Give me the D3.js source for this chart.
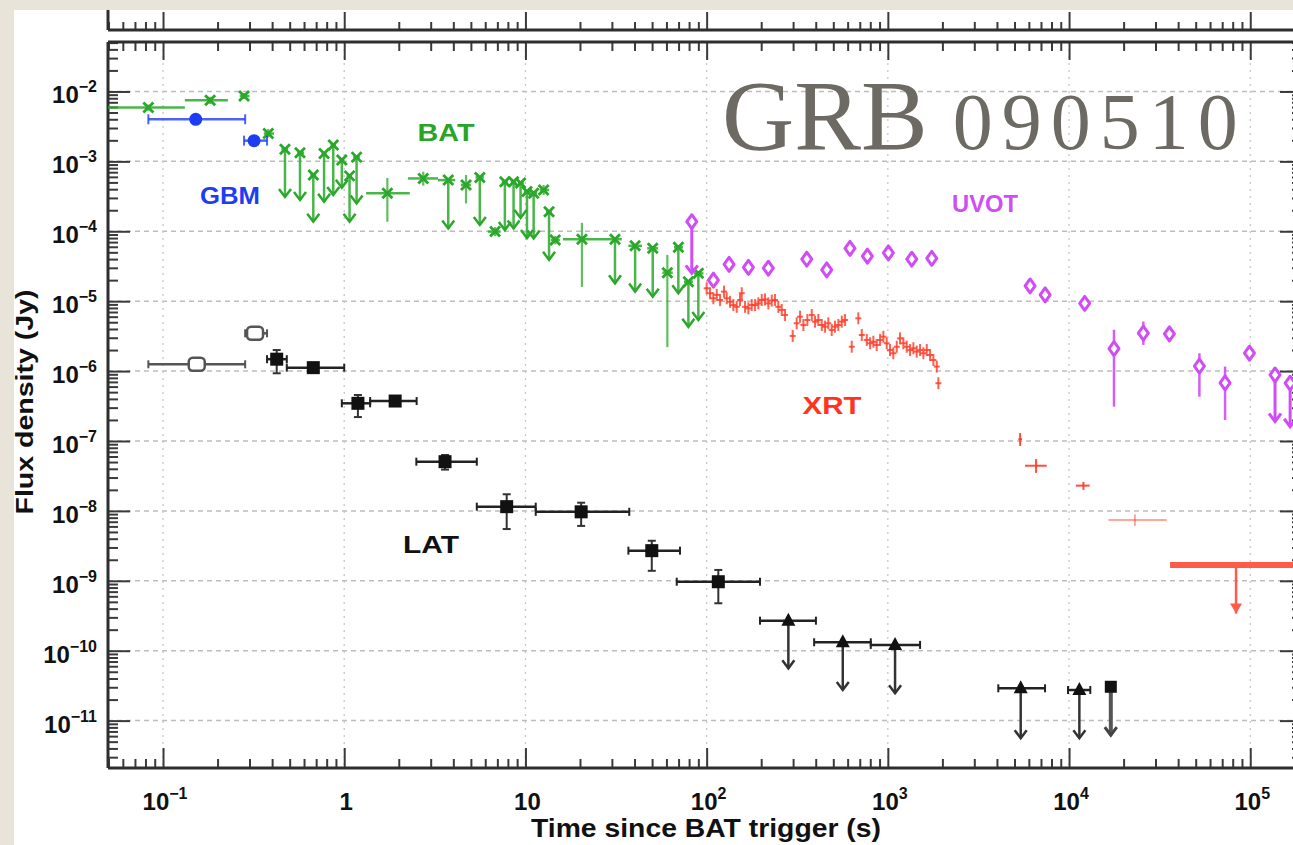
<!DOCTYPE html>
<html>
<head>
<meta charset="utf-8">
<script src="https://cdn.jsdelivr.net/npm/d3@7"></script>
<style>
  html, body { margin: 0; padding: 0; background: #e9e4d9; }
  svg { display: block; }
  text { font-family: "Liberation Sans", Arial, sans-serif; }
</style>
</head>
<body>
<svg id="chart" width="1293" height="845"></svg>
<script>
// BAT detections: t, flux, tLo, tHi, fLo, fHi
const batDet = [
  [0.083, 5.9e-3, 0.0497, 0.132, 5.3e-3, 6.5e-3],
  [0.182, 7.5e-3, 0.132, 0.228, 6.6e-3, 8.4e-3],
  [0.28, 8.6e-3, 0.265, 0.30, 7.8e-3, 9.5e-3],
  [0.381, 2.5e-3, 0.36, 0.41, 2.2e-3, 2.9e-3],
  [1.73, 3.5e-4, 1.32, 2.3, 1.37e-4, 5.8e-4],
  [2.73, 5.7e-4, 2.25, 3.29, 4.5e-4, 7.1e-4],
  [4.7, 4.6e-4, 4.4, 5.0, 2.5e-4, 6.4e-4],
  [6.8, 9.9e-5, 6.2, 7.3, 8.5e-5, 1.15e-4],
  [12.6, 3.9e-4, 12.0, 13.5, 3.3e-4, 4.6e-4],
  [14.6, 7.5e-5, 13.8, 15.5, 6.5e-5, 8.6e-5],
  [20.5, 7.7e-5, 16.1, 29.3, 1.6e-5, 1.32e-4],
  [60.7, 2.56e-5, 57, 65, 2.2e-6, 4.6e-5]
];
// BAT upper limits: t, flux, tLo, tHi, arrow end
const batLim = [
  [0.471, 1.49e-3, 0.45, 0.49, 3.1e-4],
  [0.57, 1.33e-3, 0.55, 0.60, 2.8e-4],
  [0.675, 6.4e-4, 0.65, 0.70, 1.37e-4],
  [0.774, 1.3e-3, 0.75, 0.80, 2.65e-4],
  [0.87, 1.72e-3, 0.84, 0.90, 3.3e-4],
  [0.97, 1.05e-3, 0.94, 1.0, 4.2e-4],
  [1.07, 6.2e-4, 1.03, 1.1, 1.37e-4],
  [1.17, 1.15e-3, 1.12, 1.22, 2.5e-4],
  [3.75, 5.4e-4, 3.29, 4.1, 1.1e-4],
  [5.6, 5.9e-4, 5.3, 5.9, 1.23e-4],
  [7.7, 5.1e-4, 7.4, 8.0, 1.04e-4],
  [8.6, 5.1e-4, 8.3, 8.9, 1.1e-4],
  [9.4, 4.9e-4, 9.1, 9.8, 1.55e-4],
  [10.2, 3.7e-4, 9.8, 10.7, 8.0e-5],
  [11.1, 3.5e-4, 10.7, 11.6, 7.9e-5],
  [13.5, 1.9e-4, 13.0, 14.0, 3.9e-5],
  [31.2, 7.7e-5, 29.3, 34, 1.8e-5],
  [40.3, 6.2e-5, 37, 44, 1.37e-5],
  [50.4, 5.7e-5, 47, 54, 1.16e-5],
  [69.8, 5.9e-5, 66, 74, 1.3e-5],
  [79.3, 1.9e-5, 75, 84, 4.3e-6],
  [90, 2.5e-5, 85, 96, 5.4e-6]
];
// GBM: t, flux, tLo, tHi
const gbmDet = [
  [0.1515, 4.0e-3, 0.083, 0.284],
  [0.318, 1.98e-3, 0.28, 0.375]
];
// LAT detections: t, flux, tLo, tHi, fLo, fHi (first two open symbols)
const latOpen = [
  [0.1535, 1.25e-6, 0.083, 0.284, 1.15e-6, 1.36e-6],
  [0.322, 3.47e-6, 0.284, 0.375, 3.2e-6, 3.8e-6]
];
const latDet = [
  [0.424, 1.48e-6, 0.375, 0.482, 9.3e-7, 2.0e-6],
  [0.675, 1.12e-6, 0.482, 1.0, 1.0e-6, 1.25e-6],
  [1.19, 3.46e-7, 0.97, 1.39, 2.2e-7, 4.55e-7],
  [1.91, 3.73e-7, 1.39, 2.51, 3.3e-7, 4.2e-7],
  [3.6, 5.06e-8, 2.5, 5.39, 3.9e-8, 6.3e-8],
  [7.88, 1.15e-8, 5.39, 11.4, 5.5e-9, 1.73e-8],
  [20.3, 9.7e-9, 11.4, 37.4, 6.1e-9, 1.31e-8],
  [49.8, 2.7e-9, 37, 71.3, 1.39e-9, 3.74e-9],
  [116, 9.7e-10, 68.4, 197, 4.77e-10, 1.43e-9]
];
// LAT upper limits: t, flux, tLo, tHi, arrow end
const latLim = [
  [282.5, 2.69e-10, 197, 401, 5.6e-11],
  [564, 1.32e-10, 392, 805, 2.74e-11],
  [1096, 1.21e-10, 805, 1506, 2.46e-11],
  [5410, 2.9e-11, 4070, 7370, 5.6e-12],
  [1.14e4, 2.74e-11, 9870, 1.31e4, 5.6e-12]
];
const latLimSq = [[1.70e4, 3.05e-11, 6.2e-12]];
// XRT light curve
const xrtT = [100, 104.4, 108.9, 113.7, 118.6, 124.7, 129.1, 134.6, 140.4, 146.6, 152.8, 156.2, 162.9, 169.9, 177.4, 185, 192.9, 201.4, 210, 219, 228.8, 238.5, 248.7, 259.6, 270.8, 298.5, 314, 327.7, 341.9, 359.6, 380.3, 396.5, 413.4, 431.8, 450.2, 469.5, 490, 511, 533, 557, 580.6, 632, 687, 718, 765, 798, 832, 868, 906, 945, 986, 1028, 1072, 1120, 1167, 1218, 1271, 1326, 1383, 1443, 1506, 1571, 1640, 1710, 1784, 1862, 1900];
const xrtF = [1.53e-5, 1.30e-5, 1.10e-5, 1.23e-5, 1.04e-5, 1.37e-5, 1.10e-5, 9.8e-6, 8.8e-6, 8.3e-6, 1.04e-5, 1.30e-5, 8.3e-6, 7.9e-6, 8.8e-6, 8.8e-6, 9.3e-6, 1.04e-5, 1.06e-5, 9.3e-6, 1.02e-5, 1.04e-5, 8.3e-6, 7.5e-6, 6.35e-6, 3.18e-6, 4.83e-6, 6.0e-6, 4.56e-6, 5.38e-6, 6.35e-6, 5.09e-6, 5.38e-6, 4.56e-6, 4.32e-6, 4.83e-6, 3.87e-6, 4.32e-6, 4.56e-6, 5.09e-6, 5.38e-6, 2.23e-6, 5.69e-6, 3.28e-6, 2.79e-6, 2.50e-6, 2.63e-6, 2.36e-6, 2.79e-6, 3.1e-6, 2.50e-6, 2.0e-6, 1.80e-6, 2.23e-6, 2.94e-6, 2.5e-6, 2.23e-6, 2.0e-6, 2.12e-6, 1.90e-6, 2.0e-6, 1.80e-6, 2.0e-6, 1.70e-6, 1.44e-6, 1.16e-6, 6.7e-7];
// late XRT: t, flux, tLo, tHi, fLo, fHi
const xrtLate = [
  [5370, 1.06e-7, 5250, 5500, 8.5e-8, 1.3e-7],
  [6575, 4.43e-8, 5715, 7530, 3.5e-8, 5.5e-8],
  [1.2e4, 2.3e-8, 1.09e4, 1.3e4, 2.0e-8, 2.6e-8],
  [2.31e4, 7.4e-9, 1.65e4, 3.46e4, 6.1e-9, 8.9e-9]
];
const xrtLim = [[8.35e4, 1.68e-9, 3.61e4, 2.2e5, 3.4e-10]];
// UVOT: t, flux, fLo, fHi
const uvotDet = [
  [109, 2.0e-5, 1.8e-5, 2.3e-5],
  [133, 3.37e-5, 3.1e-5, 3.7e-5],
  [170, 3.05e-5, 2.8e-5, 3.4e-5],
  [219, 2.96e-5, 2.7e-5, 3.3e-5],
  [357, 3.98e-5, 3.6e-5, 4.4e-5],
  [460, 2.8e-5, 2.5e-5, 3.1e-5],
  [618, 5.7e-5, 5.2e-5, 6.3e-5],
  [771, 4.4e-5, 4.0e-5, 4.9e-5],
  [1007, 4.9e-5, 4.4e-5, 5.4e-5],
  [1355, 3.98e-5, 3.6e-5, 4.4e-5],
  [1747, 4.1e-5, 3.7e-5, 4.6e-5],
  [6095, 1.65e-5, 1.5e-5, 1.8e-5],
  [7380, 1.23e-5, 1.12e-5, 1.35e-5],
  [1.22e4, 9.3e-6, 8.5e-6, 1.02e-5],
  [1.77e4, 2.1e-6, 3.1e-7, 3.9e-6],
  [2.57e4, 3.5e-6, 2.37e-6, 5.1e-6],
  [3.58e4, 3.4e-6, 2.8e-6, 4.1e-6],
  [5.24e4, 1.18e-6, 4.3e-7, 1.8e-6],
  [7.26e4, 6.8e-7, 2.0e-7, 1.16e-6],
  [9.9e4, 1.8e-6, 1.6e-6, 2.0e-6]
];
// UVOT upper limits: t, flux, arrow end
const uvotLim = [
  [82.8, 1.37e-4, 2.5e-5],
  [1.37e5, 8.8e-7, 1.9e-7],
  [1.66e5, 6.7e-7, 1.6e-7]
];
const yExps = [-11, -10, -9, -8, -7, -6, -5, -4, -3, -2];
const xExps = [-1, 0, 1, 2, 3, 4, 5];
const labels = [
  ["BAT", 446, 141, 57, "#27a527"],
  ["GBM", 230, 204, 60, "#1f3cf5"],
  ["UVOT", 985, 212, 66, "#cf4df5"],
  ["XRT", 832, 414, 59, "#ff3320"],
  ["LAT", 431, 553, 56, "#111"]
];

const svg = d3.select("#chart");
const W = 1293, H = 845;
const L = 108, R = 1302, T = 42, B = 768;

const x = d3.scaleLog().domain([0.0497, 1.93e5]).range([L, R]);
const y = d3.scaleLog().domain([2.1e-12, 5.1e-2]).range([B, T]);

const GREEN = "#2aa82a", BLUE = "#1f3cf5", BLACK = "#111", VIOLET = "#d04cf7", RED = "#ff3a26";

// background
svg.append("rect").attr("width", W).attr("height", H).attr("fill", "#e9e4d9");
svg.append("rect").attr("x", 14).attr("y", 10).attr("width", W - 14).attr("height", H - 10).attr("fill", "#fff");

svg.append("clipPath").attr("id", "plot").append("rect")
  .attr("x", L).attr("y", T).attr("width", R - L).attr("height", B - T);

// grid
const isPow = (v) => Math.abs(Math.log10(v) - Math.round(Math.log10(v))) < 1e-6;
const grid = svg.append("g");
grid.selectAll("line.h").data(yExps).enter().append("line")
  .attr("x1", L).attr("x2", R)
  .attr("y1", (e) => y(Math.pow(10, e))).attr("y2", (e) => y(Math.pow(10, e)))
  .attr("stroke", "#bdbdbd").attr("stroke-width", 1.5).attr("stroke-dasharray", "5,4");
grid.selectAll("line.v").data(xExps).enter().append("line")
  .attr("x1", (e) => x(Math.pow(10, e))).attr("x2", (e) => x(Math.pow(10, e)))
  .attr("y1", T).attr("y2", B)
  .attr("stroke", "#c8c8c8").attr("stroke-width", 1.3).attr("stroke-dasharray", "2,5");

// ticks through d3 axes
const xt = x.ticks();
const yt = y.ticks(12);
const xMaj = xt.filter(isPow), xMin = xt.filter((v) => !isPow(v));
const yMaj = yt.filter(isPow), yMin = yt.filter((v) => !isPow(v));

function tickAxis(axisFn, scale, vals, size, tx, ty) {
  const g = svg.append("g").attr("transform", `translate(${tx},${ty})`)
    .call(axisFn(scale).tickValues(vals).tickSize(size).tickFormat(""));
  g.select(".domain").remove();
  g.selectAll(".tick line").attr("stroke", "#3a3a3a").attr("stroke-width", 2);
  return g;
}
tickAxis(d3.axisBottom, x, xMin, -9, 0, B);
tickAxis(d3.axisBottom, x, xMaj, -20, 0, B);
tickAxis(d3.axisTop, x, xMin, -9, 0, T);
tickAxis(d3.axisTop, x, xMaj, -18, 0, T);
tickAxis(d3.axisLeft, y, yMin, -10, L, 0);
tickAxis(d3.axisLeft, y, yMaj, -22, L, 0);
tickAxis(d3.axisRight, y, yMin, -10, R, 0);
tickAxis(d3.axisRight, y, yMaj, -22, R, 0);
// panel above (only its bottom axis is visible)
tickAxis(d3.axisTop, x, xMin, 8, 0, 30);
tickAxis(d3.axisTop, x, xMaj, 18, 0, 30);

// frame lines
const frame = svg.append("g").attr("stroke", "#2e2e2e").attr("stroke-width", 3);
frame.append("line").attr("x1", L).attr("x2", W).attr("y1", B).attr("y2", B);
frame.append("line").attr("x1", L).attr("x2", W).attr("y1", T).attr("y2", T);
frame.append("line").attr("x1", L).attr("x2", W).attr("y1", 30).attr("y2", 30);
frame.append("line").attr("x1", L).attr("x2", L).attr("y1", T).attr("y2", B);
frame.append("line").attr("x1", L).attr("x2", L).attr("y1", 10).attr("y2", 30);

// tick labels
yExps.forEach((e) => {
  const t = svg.append("text").attr("x", 97).attr("y", y(Math.pow(10, e)) + 12)
    .attr("text-anchor", "end").attr("fill", "#111").attr("font-weight", "bold");
  t.append("tspan").attr("font-size", 24).text("10");
  t.append("tspan").attr("font-size", 16).attr("dy", -11).text("\u2212" + Math.abs(e));
});
xExps.forEach((e) => {
  const t = svg.append("text").attr("x", x(Math.pow(10, e)) + 2).attr("y", 810)
    .attr("text-anchor", "middle").attr("fill", "#111").attr("font-weight", "bold");
  if (e === 0) t.append("tspan").attr("font-size", 24).text("1");
  else if (e === 1) t.append("tspan").attr("font-size", 24).text("10");
  else {
    t.append("tspan").attr("font-size", 24).text("10");
    t.append("tspan").attr("font-size", 16).attr("dy", -11).text(e < 0 ? "\u2212" + Math.abs(e) : String(e));
  }
});

svg.append("text").attr("x", 706).attr("y", 837).attr("text-anchor", "middle")
  .attr("font-size", 25).attr("font-weight", "bold").attr("fill", "#111")
  .attr("textLength", 350).attr("lengthAdjust", "spacingAndGlyphs")
  .text("Time since BAT trigger (s)");
svg.append("text").attr("transform", "translate(33,402) rotate(-90)").attr("text-anchor", "middle")
  .attr("font-size", 23).attr("font-weight", "bold").attr("fill", "#111")
  .attr("textLength", 225).attr("lengthAdjust", "spacingAndGlyphs")
  .text("Flux density (Jy)");

// data layer
const plot = svg.append("g").attr("clip-path", "url(#plot)");

function seg(g, x1, y1, x2, y2, color, w, op) {
  g.append("line").attr("x1", x1).attr("y1", y1).attr("x2", x2).attr("y2", y2)
    .attr("stroke", color).attr("stroke-width", w).attr("stroke-opacity", op || 1);
}
function cross(g, cx, cy, color, s) {
  g.append("path").attr("d", `M${cx - s},${cy - s}L${cx + s},${cy + s}M${cx - s},${cy + s}L${cx + s},${cy - s}`)
    .attr("stroke", color).attr("stroke-width", 2.8).attr("fill", "none");
}
function chevron(g, cx, cy, color, w) {
  g.append("path").attr("d", `M${cx - 6},${cy - 8}L${cx},${cy}L${cx + 6},${cy - 8}`)
    .attr("stroke", color).attr("stroke-width", w).attr("fill", "none");
}
function diamond(g, cx, cy, color) {
  g.append("path").attr("d", `M${cx},${cy - 7}L${cx + 5},${cy}L${cx},${cy + 7}L${cx - 5},${cy}Z`)
    .attr("stroke", color).attr("stroke-width", 3).attr("stroke-linejoin", "round").attr("fill", "#fff");
}

// BAT
const gBat = plot.append("g");
batDet.forEach((d) => {
  seg(gBat, x(d[2]), y(d[1]), x(d[3]), y(d[1]), GREEN, 2.5, 0.85);
  seg(gBat, x(d[0]), y(d[4]), x(d[0]), y(d[5]), GREEN, 2.2, 0.75);
  cross(gBat, x(d[0]), y(d[1]), GREEN, 5);
});
batLim.forEach((d) => {
  seg(gBat, x(d[2]), y(d[1]), x(d[3]), y(d[1]), GREEN, 2.5, 0.85);
  seg(gBat, x(d[0]), y(d[1]), x(d[0]), y(d[4]), GREEN, 2.5, 0.85);
  chevron(gBat, x(d[0]), y(d[4]), GREEN, 2.5);
  cross(gBat, x(d[0]), y(d[1]), GREEN, 5);
});

// GBM
const gGbm = plot.append("g");
gbmDet.forEach((d) => {
  seg(gGbm, x(d[2]), y(d[1]), x(d[3]), y(d[1]), BLUE, 2.5, 0.8);
  seg(gGbm, x(d[2]), y(d[1]) - 5, x(d[2]), y(d[1]) + 5, BLUE, 2, 0.8);
  seg(gGbm, x(d[3]), y(d[1]) - 5, x(d[3]), y(d[1]) + 5, BLUE, 2, 0.8);
  gGbm.append("circle").attr("cx", x(d[0])).attr("cy", y(d[1])).attr("r", 6.5).attr("fill", BLUE);
});

// LAT
const gLat = plot.append("g");
function hbar(g, d, color) {
  seg(g, x(d[2]), y(d[1]), x(d[3]), y(d[1]), color, 2.5);
  seg(g, x(d[2]), y(d[1]) - 4, x(d[2]), y(d[1]) + 4, color, 2);
  seg(g, x(d[3]), y(d[1]) - 4, x(d[3]), y(d[1]) + 4, color, 2);
}
latOpen.forEach((d) => {
  hbar(gLat, d, "#555");
  gLat.append("rect").attr("x", x(d[0]) - 8).attr("y", y(d[1]) - 6.5).attr("width", 16).attr("height", 13)
    .attr("rx", 4).attr("fill", "#fff").attr("stroke", "#555").attr("stroke-width", 2.5);
});
latDet.forEach((d) => {
  hbar(gLat, d, "#222");
  seg(gLat, x(d[0]), y(d[4]), x(d[0]), y(d[5]), "#333", 2);
  seg(gLat, x(d[0]) - 4, y(d[4]), x(d[0]) + 4, y(d[4]), "#333", 2);
  seg(gLat, x(d[0]) - 4, y(d[5]), x(d[0]) + 4, y(d[5]), "#333", 2);
  gLat.append("rect").attr("x", x(d[0]) - 6.5).attr("y", y(d[1]) - 6.5).attr("width", 13).attr("height", 13)
    .attr("fill", BLACK);
});
latLim.forEach((d) => {
  hbar(gLat, d, "#222");
  seg(gLat, x(d[0]), y(d[1]), x(d[0]), y(d[4]), "#333", 2.5);
  chevron(gLat, x(d[0]), y(d[4]), "#333", 2.5);
  const cx = x(d[0]), cy = y(d[1]);
  gLat.append("path").attr("d", `M${cx - 7},${cy + 5}L${cx},${cy - 8}L${cx + 7},${cy + 5}Z`).attr("fill", BLACK);
});
latLimSq.forEach((d) => {
  seg(gLat, x(d[0]), y(d[1]), x(d[0]), y(d[2]), "#555", 4);
  chevron(gLat, x(d[0]), y(d[2]), "#444", 3);
  gLat.append("rect").attr("x", x(d[0]) - 6).attr("y", y(d[1]) - 6).attr("width", 12).attr("height", 12)
    .attr("fill", BLACK);
});

// UVOT
const gUv = plot.append("g");
uvotDet.forEach((d) => {
  seg(gUv, x(d[0]), y(d[2]), x(d[0]), y(d[3]), VIOLET, 2.5, 0.9);
  diamond(gUv, x(d[0]), y(d[1]), VIOLET);
});
uvotLim.forEach((d) => {
  seg(gUv, x(d[0]), y(d[1]), x(d[0]), y(d[2]), VIOLET, 3);
  chevron(gUv, x(d[0]), y(d[2]), VIOLET, 3);
  diamond(gUv, x(d[0]), y(d[1]), VIOLET);
});

// XRT
const gX = plot.append("g");
xrtT.forEach((t, i) => {
  const cx = x(t), cy = y(xrtF[i]);
  seg(gX, cx, cy - 6, cx, cy + 6, RED, 2, 0.8);
  seg(gX, cx - 3, cy, cx + 3, cy, RED, 2, 0.8);
});
xrtLate.forEach((d, i) => {
  const op = i === 3 ? 0.45 : 0.9;
  seg(gX, x(d[2]), y(d[1]), x(d[3]), y(d[1]), RED, 2, op);
  seg(gX, x(d[0]), y(d[4]), x(d[0]), y(d[5]), RED, 2, op);
});
xrtLim.forEach((d) => {
  seg(gX, x(d[2]), y(d[1]), x(d[3]), y(d[1]), "#ff5a4a", 6);
  seg(gX, x(d[0]), y(d[1]), x(d[0]), y(d[4]), "#ff5a4a", 2.5);
  const cx = x(d[0]), cy = y(d[4]);
  gX.append("path").attr("d", `M${cx - 6},${cy - 10}L${cx},${cy}L${cx + 6},${cy - 10}Z`).attr("fill", "#ff5a4a");
});

// instrument labels
labels.forEach((l) => {
  svg.append("text").attr("x", l[1]).attr("y", l[2]).attr("text-anchor", "middle")
    .attr("font-size", 23).attr("font-weight", "bold").attr("fill", l[4])
    .attr("textLength", l[3]).attr("lengthAdjust", "spacingAndGlyphs").text(l[0]);
});

// title
const title = svg.append("text").attr("x", 722).attr("y", 149)
  .style("font-family", "'Liberation Serif', 'DejaVu Serif', serif").attr("fill", "#6d6a63");
title.append("tspan").attr("font-size", 100).text("GRB ");
title.append("tspan").attr("font-size", 80).attr("letter-spacing", 9).text("090510");
</script>
</body>
</html>
